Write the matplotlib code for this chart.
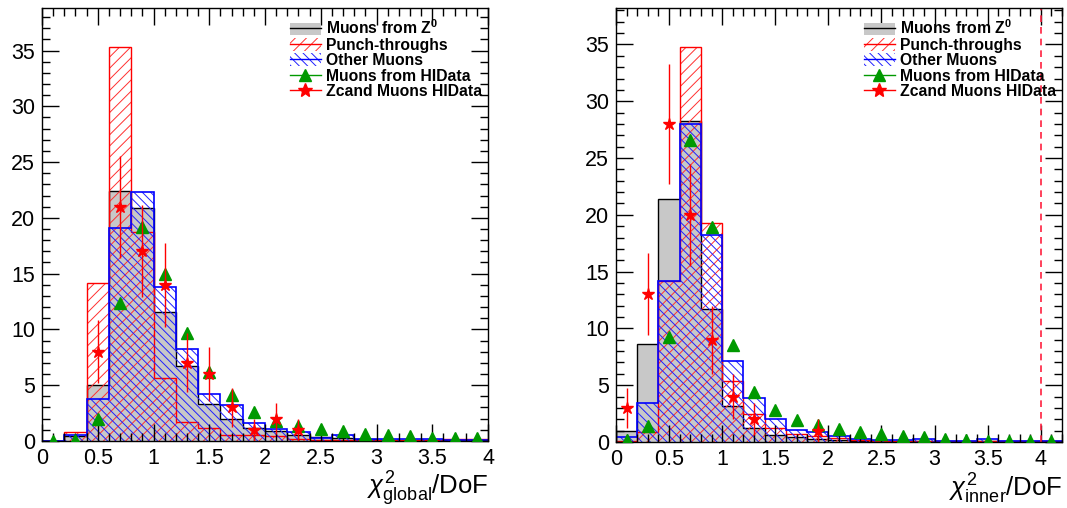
import numpy as np
import matplotlib
matplotlib.use('Agg')
import matplotlib.pyplot as plt
from matplotlib.patches import Patch
from matplotlib.lines import Line2D
from matplotlib.legend_handler import HandlerTuple
from matplotlib.ticker import MultipleLocator, FuncFormatter

plt.rcParams['font.family'] = ['Liberation Sans', 'DejaVu Sans']
plt.rcParams['mathtext.fontset'] = 'custom'
plt.rcParams['mathtext.rm'] = 'Liberation Sans'
plt.rcParams['mathtext.it'] = 'Liberation Sans:italic'
plt.rcParams['mathtext.bf'] = 'Liberation Sans:bold'
plt.rcParams['hatch.linewidth'] = 0.7

# ---- left panel: chi2 global / DoF (bins of 0.2 from 0 to 4)
edges_global = np.linspace(0, 4, 21)
z0_global = [0.0, 0.4, 5.0, 22.4, 20.9, 11.6, 6.7, 3.3, 2.0, 1.2, 0.9, 0.55, 0.33, 0.25, 0.2,
             0.1, 0.1, 0.1, 0.1, 0.1]
punch_global = [0.0, 0.8, 14.2, 35.3, 18.7, 5.6, 1.7, 1.2, 0.55, 0.5, 0.4, 0.2, 0.1, 0.1, 0.1,
                0.1, 0.1, 0.1, 0.15, 0.15]
other_global = [0.0, 0.5, 3.8, 19.1, 22.3, 13.8, 8.2, 4.2, 3.2, 1.6, 1.1, 0.8, 0.25, 0.55, 0.2,
                0.15, 0.15, 0.15, 0.12, 0.12]
hidata_global = [0.02, 0.1, 2.0, 12.4, 19.2, 15.0, 9.7, 6.2, 4.1, 2.6, 1.8, 1.35, 1.1, 0.9, 0.65,
                 0.5, 0.4, 0.3, 0.25, 0.25]
zcand_x_global = [0.5, 0.7, 0.9, 1.1, 1.3, 1.5, 1.7, 1.9, 2.1, 2.3]
zcand_global = [8, 21, 17, 14, 7, 6, 3, 1, 2, 1]

# ---- right panel: chi2 inner / DoF (bins of 0.2 from 0 to 4.2)
edges_inner = np.linspace(0, 4.2, 22)
z0_inner = [1.0, 8.6, 21.4, 28.3, 11.7, 3.2, 1.2, 0.6, 0.4, 0.25, 0.15, 0.1, 0.1, 0.05, 0.05,
            0.05, 0.05, 0.05, 0.05, 0.05, 0.05]
punch_inner = [0.1, 0.9, 14.2, 34.8, 19.3, 5.4, 2.45, 1.25, 0.7, 0.55, 0.35, 0.15, 0.1, 0.1, 0.1,
               0.1, 0.1, 0.1, 0.1, 0.1, 0.1]
other_inner = [0.4, 3.4, 14.2, 28.0, 18.2, 7.1, 3.9, 2.0, 1.05, 0.87, 0.5, 0.25, 0.15, 0.15, 0.25,
               0.1, 0.1, 0.25, 0.1, 0.1, 0.1]
hidata_inner = [0.15, 1.4, 9.2, 26.6, 18.9, 8.5, 4.4, 2.8, 1.9, 1.5, 1.1, 0.87, 0.72, 0.5, 0.4,
                0.25, 0.18, 0.12, 0.1, 0.08, 0.05]
zcand_x_inner = [0.1, 0.3, 0.5, 0.7, 0.9, 1.1, 1.3, 1.9]
zcand_inner = [3, 13, 28, 20, 9, 4, 2, 1]

labels = [r'Muons from Z$^{\mathbf{0}}$', 'Punch-throughs', 'Other Muons',
          'Muons from HIData', 'Zcand Muons HIData']

GRAY = '#c8c8c8'
GREEN = '#009900'


def draw_panel(ax, edges, z0, punch, other, hidata, zx, zc, xmax, ymax, xlabel):
    centers = 0.5 * (edges[:-1] + edges[1:])
    # gray filled Z0 histogram
    ax.stairs(z0, edges, fill=True, facecolor=GRAY, edgecolor='none', lw=0)
    ax.stairs(z0, edges, color='black', lw=1)
    # hatched histograms
    ax.stairs(punch, edges, fill=True, facecolor='none', edgecolor='#ff3030', hatch='///', lw=0)
    ax.stairs(punch, edges, color='red', lw=1)
    ax.stairs(other, edges, fill=True, facecolor='none', edgecolor='#2020ff', hatch='\\\\\\\\', lw=0)
    ax.stairs(other, edges, color='blue', lw=1.2)
    # data points
    ax.plot(centers, hidata, ls='none', marker='^', ms=9, color=GREEN, zorder=5)
    zc = np.array(zc, dtype=float)
    ax.errorbar(zx, zc, yerr=np.sqrt(zc), fmt='*', ms=9, color='red', ecolor='red',
                elinewidth=1, capsize=0, zorder=6)

    ax.set_xlim(0, xmax)
    ax.set_ylim(0, ymax)
    ax.xaxis.set_major_locator(MultipleLocator(0.5))
    ax.xaxis.set_minor_locator(MultipleLocator(0.1))
    ax.yaxis.set_major_locator(MultipleLocator(5))
    ax.yaxis.set_minor_locator(MultipleLocator(1))
    ax.xaxis.set_major_formatter(FuncFormatter(lambda v, p: f'{v:g}'))
    ax.tick_params(which='both', direction='in', top=True, right=True, width=1)
    ax.tick_params(which='major', length=12, labelsize=15.5)
    ax.tick_params(which='minor', length=6)
    ax.tick_params(axis='x', pad=5)
    ax.tick_params(axis='y', pad=5)
    for s in ax.spines.values():
        s.set_linewidth(1)

    ax.text(1.0, -0.125, xlabel, transform=ax.transAxes, ha='right', va='baseline', fontsize=18.5)

    handles = [
        (Patch(facecolor=GRAY, edgecolor='none'), Line2D([], [], color='black', lw=1)),
        (Patch(facecolor='none', edgecolor='#ff3030', hatch='///', lw=0), Line2D([], [], color='red', lw=1)),
        (Patch(facecolor='none', edgecolor='#2020ff', hatch='\\\\\\\\', lw=0), Line2D([], [], color='blue', lw=1)),
        Line2D([], [], color=GREEN, marker='^', ms=9, lw=1),
        Line2D([], [], color='red', marker='*', ms=10, lw=1),
    ]
    ax.legend(handles, labels, handler_map={tuple: HandlerTuple(ndivide=1, pad=0)},
              loc='upper left', bbox_to_anchor=(0.556, 0.976), frameon=False,
              prop={'weight': 'bold', 'size': 11.3}, handlelength=1.95, handleheight=0.85,
              handletextpad=0.35, labelspacing=0.03, borderpad=0, borderaxespad=0)


fig = plt.figure(figsize=(10.67, 5.08), dpi=100)
ax1 = fig.add_axes([0.0394, 0.132, 0.418, 0.852])
ax2 = fig.add_axes([0.5773, 0.13, 0.418, 0.854])

draw_panel(ax1, edges_global, z0_global, punch_global, other_global, hidata_global,
           zcand_x_global, zcand_global, 4.0, 38.8, r'$\chi^{2}_{\mathrm{global}}$/DoF')
draw_panel(ax2, edges_inner, z0_inner, punch_inner, other_inner, hidata_inner,
           zcand_x_inner, zcand_inner, 4.2, 38.2, r'$\chi^{2}_{\mathrm{inner}}$/DoF')
ax2.axvline(4.0, color='#ff2040', ls='--', lw=1.2, dashes=(4, 3))

fig.savefig('out.png', dpi=100)
